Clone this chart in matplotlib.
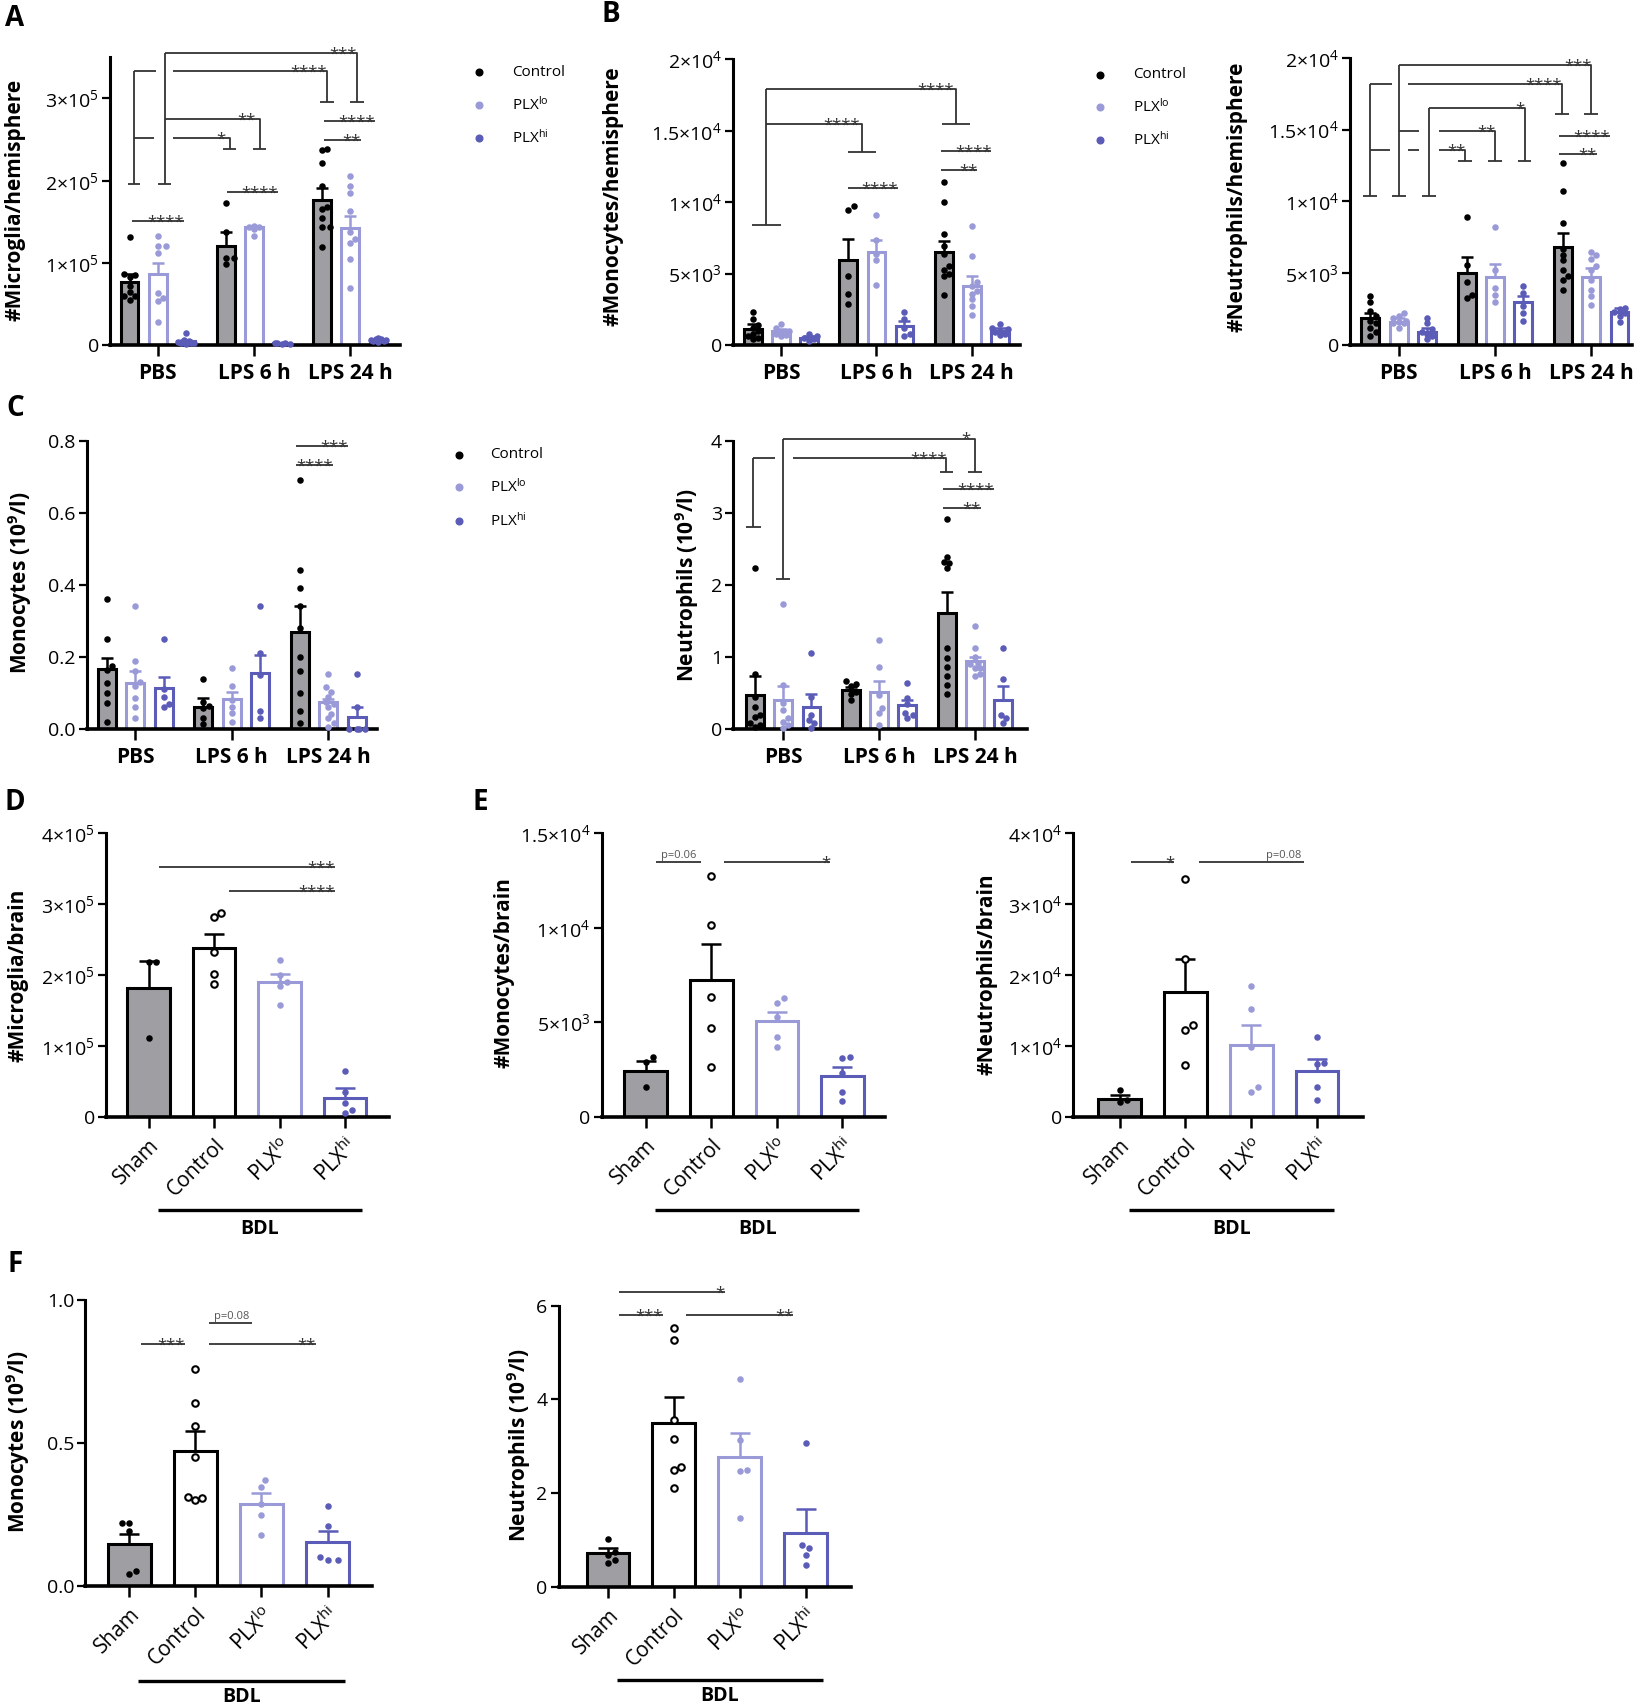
import numpy as np
import matplotlib
matplotlib.use("Agg")
import matplotlib.pyplot as plt
from matplotlib.lines import Line2D
from matplotlib.transforms import blended_transform_factory

plt.rcParams['font.family'] = ['Open Sans', 'DejaVu Sans']
plt.rcParams['mathtext.fontset'] = 'custom'
plt.rcParams['mathtext.rm'] = 'Open Sans'
plt.rcParams['mathtext.bf'] = 'Open Sans:bold'
plt.rcParams['mathtext.it'] = 'Open Sans:italic'

# ---------------------------------------------------------------- data
groups3 = ["PBS", "LPS 6 h", "LPS 24 h"]
treat3 = ["Control", r"PLX$^{\mathrm{lo}}$", r"PLX$^{\mathrm{hi}}$"]
bdl_labels = ["Sham", "Control", r"PLX$^{\mathrm{lo}}$", r"PLX$^{\mathrm{hi}}$"]

# A: microglia / hemisphere  (rows: PBS, LPS 6 h, LPS 24 h; cols: Control, PLXlo, PLXhi)
A_mean = [[77000, 87000, 4500], [120000, 143000, 2000], [177000, 142000, 6000]]
A_sem = [[10000, 13000, 1500], [17000, 2000, 500], [14000, 15000, 600]]
A_pts = [
    [[132000, 87000, 85000, 83000, 72000, 65000, 60000, 55000, 60000],
     [133000, 120000, 120000, 112000, 63000, 57000, 53000, 28000],
     [15000, 6000, 4000, 3000, 2000, 2000, 1000, 5000]],
    [[173000, 137000, 106000, 106000, 99000],
     [145000, 144000, 143000, 141000, 133000],
     [3000, 2000, 2000, 1000, 1000]],
    [[238000, 237000, 222000, 194000, 168000, 154000, 144000, 144000, 119000, 166000],
     [206000, 194000, 185000, 163000, 138000, 124000, 129000, 105000, 69000],
     [8000, 7000, 6000, 5000, 5000, 4000, 6000, 7000]],
]

# B: monocytes / hemisphere
Bm_mean = [[1100, 960, 520], [5950, 6500, 1300], [6500, 4150, 1000]]
Bm_sem = [[400, 130, 120], [1470, 850, 350], [800, 650, 190]]
Bm_pts = [
    [[2300, 1800, 1400, 1000, 800, 600, 400, 500, 1200],
     [1500, 1200, 1000, 900, 800, 700, 600],
     [800, 600, 500, 400, 500, 300]],
    [[9700, 9450, 4800, 3600, 2900],
     [9100, 7350, 6400, 5950, 4200],
     [2300, 1800, 1200, 800, 600]],
    [[11400, 10000, 7800, 6900, 5250, 5000, 4800, 3500, 6400, 5500],
     [8300, 6200, 4100, 3600, 3200, 2700, 2100, 4400, 3800],
     [1500, 1200, 1000, 800, 700, 1100, 900]],
]

# B: neutrophils / hemisphere
Bn_mean = [[1860, 1620, 930], [4990, 4710, 2970], [6840, 4760, 2320]]
Bn_sem = [[340, 240, 230], [1110, 930, 440], [930, 580, 230]]
Bn_pts = [
    [[3400, 3000, 2400, 2000, 1500, 900, 600, 1700, 1200],
     [2200, 2000, 1900, 1700, 1500, 1600, 1200, 1500],
     [1900, 1500, 1100, 800, 600, 400, 900]],
    [[8900, 5600, 4400, 3500, 3300],
     [8200, 5200, 4000, 3500, 3000],
     [4100, 3600, 2700, 2200, 1700]],
    [[12700, 10700, 8500, 6700, 5900, 5200, 4500, 3800, 6300, 4800],
     [6500, 6300, 6000, 5200, 4500, 3800, 3400, 2800, 5500],
     [2600, 2500, 2300, 2200, 2000, 1600]],
]

# C: blood monocytes (10^9/l)
Cm_mean = [[0.166, 0.129, 0.115], [0.060, 0.082, 0.156], [0.268, 0.076, 0.032]]
Cm_sem = [[0.032, 0.033, 0.030], [0.025, 0.020, 0.048], [0.073, 0.008, 0.030]]
Cm_pts = [
    [[0.36, 0.25, 0.175, 0.164, 0.127, 0.099, 0.071, 0.02],
     [0.34, 0.19, 0.16, 0.13, 0.085, 0.06, 0.03, 0.12],
     [0.25, 0.11, 0.09, 0.07, 0.06]],
    [[0.14, 0.076, 0.057, 0.03, 0.015, 0.065],
     [0.17, 0.12, 0.08, 0.045, 0.02, 0.06],
     [0.34, 0.21, 0.15, 0.05, 0.03]],
    [[0.69, 0.44, 0.39, 0.34, 0.28, 0.20, 0.16, 0.10, 0.05, 0.016],
     [0.153, 0.116, 0.104, 0.076, 0.062, 0.043, 0.03, 0.016, 0.006, 0.09, 0.07],
     [0.153, 0.06, 0.0, 0.0, 0.0, 0.0]],
]

# C: blood neutrophils (10^9/l)
Cn_mean = [[0.47, 0.40, 0.31], [0.54, 0.52, 0.33], [1.61, 0.95, 0.40]]
Cn_sem = [[0.26, 0.20, 0.17], [0.04, 0.15, 0.07], [0.29, 0.05, 0.19]]
Cn_pts = [
    [[2.24, 0.77, 0.45, 0.31, 0.17, 0.08, 0.05, 0.03, 0.2],
     [1.74, 0.61, 0.36, 0.26, 0.15, 0.06, 0.02, 0.1],
     [1.05, 0.45, 0.19, 0.08, 0.01, 0.12]],
    [[0.66, 0.62, 0.60, 0.52, 0.49, 0.40],
     [1.23, 0.86, 0.47, 0.29, 0.22, 0.05],
     [0.64, 0.43, 0.35, 0.22, 0.15, 0.2]],
    [[2.92, 2.39, 2.32, 2.23, 2.30, 1.12, 0.98, 0.86, 0.73, 0.61, 0.49],
     [1.43, 1.13, 1.0, 0.91, 0.84, 0.77, 0.73, 0.9, 0.85],
     [1.13, 0.70, 0.19, 0.15, 0.08]],
]

# D: microglia / brain (Sham, Control, PLXlo, PLXhi)
D_mean = [182000, 238000, 190000, 27000]
D_sem = [38000, 20000, 11000, 13000]
D_pts = [[219000, 218000, 111000],
         [288000, 282000, 232000, 202000, 188000],
         [221000, 200000, 184000, 157000, 190000],
         [64000, 35000, 9000, 5000, 20000]]

# E: monocytes / brain
Em_mean = [2440, 7240, 5040, 2160]
Em_sem = [510, 1910, 490, 490]
Em_pts = [[3180, 2900, 1590],
          [12760, 10160, 6360, 4680, 2610],
          [6270, 6000, 5300, 4240, 3710],
          [3140, 3100, 2300, 1330, 850]]

# E: neutrophils / brain
En_mean = [2450, 17600, 10100, 6450]
En_sem = [650, 4700, 2900, 1650]
En_pts = [[3700, 2400, 2100],
          [33600, 22300, 12900, 12200, 7300],
          [18400, 15200, 9900, 4200, 3500],
          [11200, 7600, 7400, 4200, 2400]]

# F: blood monocytes after BDL
Fm_mean = [0.145, 0.471, 0.285, 0.152]
Fm_sem = [0.036, 0.072, 0.038, 0.041]
Fm_pts = [[0.22, 0.22, 0.19, 0.05, 0.04],
          [0.757, 0.638, 0.559, 0.449, 0.306, 0.30, 0.31],
          [0.37, 0.347, 0.285, 0.247, 0.177],
          [0.28, 0.21, 0.10, 0.09, 0.09]]

# F: blood neutrophils after BDL
Fn_mean = [0.71, 3.50, 2.78, 1.15]
Fn_sem = [0.11, 0.54, 0.51, 0.51]
Fn_pts = [[1.01, 0.75, 0.68, 0.57, 0.5],
          [5.52, 5.27, 3.57, 3.15, 2.56, 2.49, 2.10],
          [4.43, 3.13, 2.49, 2.48, 1.46],
          [3.07, 0.89, 0.82, 0.68, 0.46]]

# tick values / labels
def sci(m, e):
    return f"{m}×10$^{{{e}}}$"

A_yt = [0, 1e5, 2e5, 3e5]
A_ytl = ["0", sci(1, 5), sci(2, 5), sci(3, 5)]
B_yt = [0, 5e3, 1e4, 1.5e4, 2e4]
B_ytl = ["0", sci(5, 3), sci(1, 4), sci("1.5", 4), sci(2, 4)]
Cm_yt = [0, 0.2, 0.4, 0.6, 0.8]
Cm_ytl = ["0.0", "0.2", "0.4", "0.6", "0.8"]
Cn_yt = [0, 1, 2, 3, 4]
Cn_ytl = ["0", "1", "2", "3", "4"]
D_yt = [0, 1e5, 2e5, 3e5, 4e5]
D_ytl = ["0", sci(1, 5), sci(2, 5), sci(3, 5), sci(4, 5)]
Em_yt = [0, 5e3, 1e4, 1.5e4]
Em_ytl = ["0", sci(5, 3), sci(1, 4), sci("1.5", 4)]
En_yt = [0, 1e4, 2e4, 3e4, 4e4]
En_ytl = ["0", sci(1, 4), sci(2, 4), sci(3, 4), sci(4, 4)]
Fm_yt = [0, 0.5, 1.0]
Fm_ytl = ["0.0", "0.5", "1.0"]
Fn_yt = [0, 2, 4, 6]
Fn_ytl = ["0", "2", "4", "6"]

# ---------------------------------------------------------------- style
W, H, DPI = 1640, 1705, 100
GRAY = '#9e9ea3'
LO = '#9a9ad8'
HI = '#5b5bb8'
ANN = '#333333'
GROUP_POS = [0.0, 3.4, 6.8]
OFFS = [-1, 0, 1]
FILL3 = [GRAY, 'white', 'white']
EDGE3 = ['black', LO, HI]
DOT3 = ['black', LO, HI]
FILL4 = [GRAY, 'white', 'white', 'white']
EDGE4 = ['black', 'black', LO, HI]
DOT4 = ['black', 'white', LO, HI]

fig = plt.figure(figsize=(W / DPI, H / DPI), dpi=DPI)
fig.patch.set_facecolor('white')


def make_axes(x0, x1, yt, yb):
    return fig.add_axes([x0 / W, 1 - yb / H, (x1 - x0) / W, (yb - yt) / H])


def setup(ax, xlim, ylim, yt, ytl):
    ax.set_xlim(*xlim)
    ax.set_ylim(*ylim)
    ax.patch.set_alpha(0)
    for s in ['top', 'right']:
        ax.spines[s].set_visible(False)
    ax.spines['left'].set_linewidth(2.2)
    ax.spines['bottom'].set_linewidth(2.6)
    ax.set_yticks(yt)
    ax.set_yticklabels(ytl, fontsize=14)
    ax.tick_params(axis='y', length=6, width=1.6, pad=2)
    ax.tick_params(axis='x', length=8, width=1.8, pad=5)


def swarm(ax, x0, ys, d=6.6, kmax=3):
    """Beeswarm-like horizontal placement (pixel space), limited to the bar."""
    ys = np.asarray(ys, float)
    order = np.argsort(ys)
    placed = []
    px0 = ax.transData.transform((x0, 0))[0]
    unit = ax.transData.transform((x0 + 1, 0))[0] - px0
    xs = np.full(len(ys), float(x0))
    ks = [0]
    for k in range(1, kmax + 1):
        ks += [k, -k]
    for i in order:
        py = ax.transData.transform((x0, ys[i]))[1]
        best, best_d = px0, -1.0
        for k in ks:
            cx = px0 + k * d * 0.5
            md = min([np.hypot(cx - qx, py - qy) for qx, qy in placed] + [1e9])
            if md >= d:
                best = cx
                break
            if md > best_d:
                best, best_d = cx, md
        placed.append((best, py))
        xs[i] = x0 + (best - px0) / unit
    return xs


def grouped(ax, means, sems, pts, bw=0.63):
    for g in range(3):
        for t in range(3):
            x = GROUP_POS[g] + OFFS[t]
            ax.bar(x, means[g][t], width=bw, color=FILL3[t], edgecolor=EDGE3[t],
                   linewidth=2.2, zorder=2)
            ax.errorbar(x, means[g][t], yerr=[[0], [sems[g][t]]], fmt='none',
                        ecolor=EDGE3[t], elinewidth=1.8, capsize=4.5, capthick=1.8, zorder=3)
            xs = swarm(ax, x, pts[g][t], d=5.2, kmax=3)
            ax.scatter(xs, pts[g][t], s=22, color=DOT3[t], zorder=4, linewidths=0,
                       clip_on=False)
    ax.set_xticks(GROUP_POS)
    ax.set_xticklabels(groups3, fontsize=15, fontweight='bold')


def bdl(ax, means, sems, pts, line_y, text_y, bw=0.65):
    for i in range(4):
        ax.bar(i, means[i], width=bw, color=FILL4[i], edgecolor=EDGE4[i],
               linewidth=2.2, zorder=2)
        ax.errorbar(i, means[i], yerr=[[0], [sems[i]]], fmt='none', ecolor=EDGE4[i],
                    elinewidth=1.8, capsize=7, capthick=1.8, zorder=3)
        xs = swarm(ax, i, pts[i], d=7.2, kmax=4)
        if i == 1:
            ax.scatter(xs, pts[i], s=22, facecolor='white', edgecolor='black',
                       linewidths=1.5, zorder=4, clip_on=False)
        else:
            ax.scatter(xs, pts[i], s=22, color=DOT4[i], linewidths=0, zorder=4,
                       clip_on=False)
    ax.set_xticks(range(4))
    ax.set_xticklabels(bdl_labels, fontsize=15, rotation=45, ha='right',
                       rotation_mode='anchor')
    tr = blended_transform_factory(ax.transData, ax.transAxes)
    ax.plot([0.14, 3.26], [line_y, line_y], color='black', lw=2.4, transform=tr,
            clip_on=False, solid_capstyle='butt')
    ax.text(1.7, text_y, "BDL", transform=tr, ha='center', va='center',
            fontsize=14, fontweight='bold')


def annotate(ax, items, sc=1.0):
    for it in items:
        k = it[0]
        if k == 'L':
            ax.plot(it[1], [v * sc for v in it[2]], color=ANN, lw=1.3, clip_on=False,
                    solid_capstyle='butt', zorder=5)
        elif k == 'C':
            x, y, hw = it[1], it[2], it[3]
            ax.plot([x - hw, x + hw], [y * sc, y * sc], color=ANN, lw=1.3,
                    clip_on=False, solid_capstyle='butt', zorder=5)
        elif k == 'S':
            ax.annotate(it[3], (it[1], it[2] * sc), xytext=(0, -4),
                        textcoords='offset points', ha='right', va='baseline',
                        fontsize=12, color=ANN, annotation_clip=False)
        elif k == 'P':
            ax.annotate(it[3], (it[1], it[2] * sc), xytext=(0, 1),
                        textcoords='offset points', ha='center', va='bottom',
                        fontsize=8, color='#555555', annotation_clip=False)


def legend(xm, xt, ys):
    for i in range(3):
        fig.add_artist(Line2D([xm / W], [1 - ys[i] / H], marker='o', ms=4.8,
                              color=DOT3[i], ls='none', transform=fig.transFigure))
        fig.text(xt / W, 1 - ys[i] / H, treat3[i], fontsize=11, va='center', ha='left')


def ylab(x, y, s):
    fig.text(x / W, 1 - y / H, s, rotation=90, ha='center', va='center',
             fontsize=15, fontweight='bold')


def letter(x, y, s):
    fig.text(x / W, 1 - y / H, s, ha='center', va='center', fontsize=20,
             fontweight='bold')


# ---------------------------------------------------------------- annotation layouts
A_ann = [
    ('L', [-0.84, -0.84], [1.96, 3.33]), ('C', -0.84, 1.96, 0.22),
    ('L', [-0.84, -0.07], [3.33, 3.33]), ('L', [-0.84, -0.14], [2.52, 2.52]),
    ('L', [0.24, 0.24], [1.96, 3.55]), ('C', 0.24, 1.96, 0.24),
    ('L', [0.24, 7.03, 7.03], [3.55, 3.55, 2.96]), ('C', 7.03, 2.96, 0.24), ('S', 7.03, 3.55, '***'),
    ('L', [0.54, 5.98, 5.98], [3.33, 3.33, 2.96]), ('C', 5.98, 2.96, 0.24), ('S', 5.98, 3.33, '****'),
    ('L', [0.24, 3.60, 3.60], [2.75, 2.75, 2.39]), ('C', 3.60, 2.39, 0.23), ('S', 3.47, 2.75, '**'),
    ('L', [0.54, 2.54, 2.54], [2.52, 2.52, 2.39]), ('C', 2.54, 2.39, 0.23), ('S', 2.40, 2.52, '*'),
    ('L', [-0.91, 0.91], [1.51, 1.51]), ('S', 0.91, 1.51, '****'),
    ('L', [2.45, 4.24], [1.86, 1.86]), ('S', 4.24, 1.86, '****'),
    ('L', [5.88, 7.68], [2.73, 2.73]), ('S', 7.68, 2.73, '****'),
    ('L', [5.88, 7.18], [2.49, 2.49]), ('S', 7.18, 2.49, '**'),
]
Bm_ann = [
    ('L', [-0.52, -0.52], [0.84, 1.79]), ('C', -0.52, 0.84, 0.52),
    ('L', [-0.52, 6.25, 6.25], [1.79, 1.79, 1.545]), ('C', 6.25, 1.545, 0.5), ('S', 6.15, 1.79, '****'),
    ('L', [-0.52, 2.88, 2.88], [1.547, 1.547, 1.35]), ('C', 2.88, 1.35, 0.5), ('S', 2.80, 1.547, '****'),
    ('L', [2.38, 4.18], [1.097, 1.097]), ('S', 4.18, 1.097, '****'),
    ('L', [5.7, 7.5], [1.36, 1.36]), ('S', 7.5, 1.36, '****'),
    ('L', [5.7, 7.0], [1.225, 1.225]), ('S', 7.0, 1.225, '**'),
]
Bn_ann = [
    ('L', [-1.01, -1.01], [1.037, 1.814]), ('C', -1.01, 1.037, 0.24),
    ('L', [-1.01, -0.24], [1.814, 1.814]), ('L', [-1.01, -0.31], [1.357, 1.357]),
    ('L', [0, 0], [1.037, 1.949]), ('C', 0, 1.037, 0.25),
    ('L', [0, 6.8, 6.8], [1.949, 1.949, 1.608]), ('C', 6.8, 1.608, 0.24), ('S', 6.8, 1.949, '***'),
    ('L', [0, 0.7], [1.49, 1.49]),
    ('L', [1.41, 3.41, 3.41], [1.49, 1.49, 1.283]), ('C', 3.41, 1.283, 0.24), ('S', 3.41, 1.49, '**'),
    ('L', [0.33, 5.76, 5.76], [1.814, 1.814, 1.608]), ('C', 5.76, 1.608, 0.24), ('S', 5.76, 1.814, '****'),
    ('L', [1.06, 1.06], [1.037, 1.652]), ('C', 1.06, 1.037, 0.24),
    ('L', [1.06, 4.45, 4.45], [1.652, 1.652, 1.283]), ('C', 4.45, 1.283, 0.24), ('S', 4.45, 1.652, '*'),
    ('L', [0.33, 0.71], [1.357, 1.357]),
    ('L', [1.41, 2.35, 2.35], [1.357, 1.357, 1.283]), ('C', 2.35, 1.283, 0.24), ('S', 2.35, 1.357, '**'),
    ('L', [5.65, 7.46], [1.457, 1.457]), ('S', 7.46, 1.457, '****'),
    ('L', [5.65, 7.0], [1.327, 1.327]), ('S', 7.0, 1.327, '**'),
]
Cm_ann = [
    ('L', [5.67, 7.48], [0.785, 0.785]), ('S', 7.48, 0.785, '***'),
    ('L', [5.67, 6.96], [0.733, 0.733]), ('S', 6.96, 0.733, '****'),
]
Cn_ann = [
    ('L', [-1.06, -1.06], [2.8, 3.755]), ('C', -1.06, 2.8, 0.26),
    ('L', [-1.06, -0.28], [3.755, 3.755]),
    ('L', [0, 0], [2.08, 4.03]), ('C', 0, 2.08, 0.25),
    ('L', [0, 6.79, 6.79], [4.03, 4.03, 3.57]), ('C', 6.79, 3.57, 0.24), ('S', 6.65, 4.03, '*'),
    ('L', [0.35, 5.78, 5.78], [3.755, 3.755, 3.57]), ('C', 5.78, 3.57, 0.24), ('S', 5.78, 3.755, '****'),
    ('L', [5.66, 7.48], [3.33, 3.33]), ('S', 7.48, 3.33, '****'),
    ('L', [5.66, 7.0], [3.07, 3.07]), ('S', 7.0, 3.07, '**'),
]
D_ann = [
    ('L', [0.16, 2.84], [3.52, 3.52]), ('S', 2.84, 3.52, '***'),
    ('L', [1.22, 2.84], [3.18, 3.18]), ('S', 2.84, 3.18, '****'),
]
Em_ann = [
    ('L', [0.16, 0.84], [13.48, 13.48]), ('P', 0.5, 13.48, 'p=0.06'),
    ('L', [1.19, 2.81], [13.48, 13.48]), ('S', 2.81, 13.48, '*'),
]
En_ann = [
    ('L', [0.17, 0.83], [3.59, 3.59]), ('S', 0.83, 3.59, '*'),
    ('L', [1.21, 2.8], [3.59, 3.59]), ('P', 2.5, 3.59, 'p=0.08'),
]
Fm_ann = [
    ('L', [0.18, 0.84], [0.845, 0.845]), ('S', 0.84, 0.845, '***'),
    ('L', [1.2, 2.82], [0.845, 0.845]), ('S', 2.82, 0.845, '**'),
    ('L', [1.2, 1.86], [0.918, 0.918]), ('P', 1.55, 0.918, 'p=0.08'),
]
Fn_ann = [
    ('L', [0.16, 1.77], [6.3, 6.3]), ('S', 1.77, 6.3, '*'),
    ('L', [0.16, 0.83], [5.8, 5.8]), ('S', 0.83, 5.8, '***'),
    ('L', [1.19, 2.81], [5.8, 5.8]), ('S', 2.81, 5.8, '**'),
]

# ---------------------------------------------------------------- panels
axA = make_axes(110, 400, 57.4, 345)
setup(axA, (-1.69, 8.56), (0, 3.5e5), A_yt, A_ytl)
grouped(axA, A_mean, A_sem, A_pts)
annotate(axA, A_ann, 1e5)

axBm = make_axes(733, 1020, 59.3, 345)
setup(axBm, (-1.71, 8.52), (0, 2e4), B_yt, B_ytl)
grouped(axBm, Bm_mean, Bm_sem, Bm_pts)
annotate(axBm, Bm_ann, 1e4)

axBn = make_axes(1350, 1632, 57.7, 345)
setup(axBn, (-1.72, 8.24), (0, 2e4), B_yt, B_ytl)
grouped(axBn, Bn_mean, Bn_sem, Bn_pts)
annotate(axBn, Bn_ann, 1e4)

axCm = make_axes(86.7, 376.7, 440.7, 729)
setup(axCm, (-1.71, 8.5), (0, 0.8), Cm_yt, Cm_ytl)
grouped(axCm, Cm_mean, Cm_sem, Cm_pts)
annotate(axCm, Cm_ann, 1.0)

axCn = make_axes(733.3, 1026.7, 440.7, 729)
setup(axCn, (-1.77, 8.63), (0, 4), Cn_yt, Cn_ytl)
grouped(axCn, Cn_mean, Cn_sem, Cn_pts)
annotate(axCn, Cn_ann, 1.0)

axD = make_axes(106, 389, 833.3, 1116.7)
setup(axD, (-0.65, 3.67), (0, 4e5), D_yt, D_ytl)
bdl(axD, D_mean, D_sem, D_pts, -0.329, -0.395)
annotate(axD, D_ann, 1e5)

axEm = make_axes(601.8, 885, 833.3, 1116.7)
setup(axEm, (-0.67, 3.65), (0, 1.5e4), Em_yt, Em_ytl)
bdl(axEm, Em_mean, Em_sem, Em_pts, -0.329, -0.395)
annotate(axEm, Em_ann, 1e3)

axEn = make_axes(1073.5, 1363, 833.3, 1116.7)
setup(axEn, (-0.70, 3.70), (0, 4e4), En_yt, En_ytl)
bdl(axEn, En_mean, En_sem, En_pts, -0.329, -0.395)
annotate(axEn, En_ann, 1e4)

axFm = make_axes(85.4, 372, 1300, 1585.7)
setup(axFm, (-0.66, 3.67), (0, 1.0), Fm_yt, Fm_ytl)
bdl(axFm, Fm_mean, Fm_sem, Fm_pts, -0.3325, -0.39)
annotate(axFm, Fm_ann, 1.0)

axFn = make_axes(558.6, 851, 1305.7, 1586.7)
setup(axFn, (-0.75, 3.69), (0, 6), Fn_yt, Fn_ytl)
bdl(axFn, Fn_mean, Fn_sem, Fn_pts, -0.332, -0.39)
annotate(axFn, Fn_ann, 1.0)

# legends
legend(479, 512, [72, 105, 138])
legend(1100, 1133, [75, 107, 140])
legend(458.7, 490, [455, 487, 521])

# y labels
ylab(15, 200, "#Microglia/hemisphere")
ylab(613, 196, "#Monocytes/hemisphere")
ylab(1237, 197, "#Neutrophils/hemisphere")
ylab(20, 583, r"Monocytes (10$^{\mathbf{9}}$/l)")
ylab(687, 585, r"Neutrophils (10$^{\mathbf{9}}$/l)")
ylab(18, 975, "#Microglia/brain")
ylab(504, 973, "#Monocytes/brain")
ylab(987, 974, "#Neutrophils/brain")
ylab(18, 1442, r"Monocytes (10$^{\mathbf{9}}$/l)")
ylab(519, 1445, r"Neutrophils (10$^{\mathbf{9}}$/l)")

# panel letters
letter(15, 18, "A")
letter(611, 15, "B")
letter(15, 408, "C")
letter(15, 803, "D")
letter(480, 803, "E")
letter(15, 1265, "F")

fig.savefig("out.png", dpi=DPI, facecolor='white')
